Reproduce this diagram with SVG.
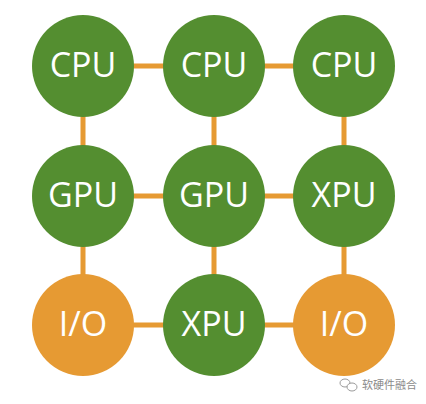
<svg xmlns="http://www.w3.org/2000/svg" width="426" height="404" viewBox="0 0 426 404">
<style>
.g{fill:#548e30}
.o{fill:#e69a33}
.t{fill:#ffffff;font-family:"Open Sans","Noto Sans",sans-serif;font-size:34px;text-anchor:middle;dominant-baseline:central}
.e{stroke:#e69a33;stroke-width:5;fill:none}
.wm{fill:#8a8a8a;font-family:"Noto Sans CJK SC",sans-serif;font-size:11px}
</style>
<rect width="426" height="404" fill="#ffffff"/>
<g id="connectors">
<line class="e" x1="83" y1="66" x2="344" y2="66"/>
<line class="e" x1="83" y1="196" x2="344" y2="196"/>
<line class="e" x1="83" y1="325" x2="344" y2="325"/>
<line class="e" x1="83" y1="66" x2="83" y2="325"/>
<line class="e" x1="214" y1="66" x2="214" y2="325"/>
<line class="e" x1="344" y1="66" x2="344" y2="325"/>
</g>
<g id="n1"><circle class="g" cx="83" cy="66" r="51"/><text class="t" x="83" y="64">CPU</text></g>
<g id="n2"><circle class="g" cx="214" cy="66" r="51"/><text class="t" x="214" y="64">CPU</text></g>
<g id="n3"><circle class="g" cx="344" cy="66" r="51"/><text class="t" x="344" y="64">CPU</text></g>
<g id="n4"><circle class="g" cx="83" cy="196" r="51"/><text class="t" x="83" y="194">GPU</text></g>
<g id="n5"><circle class="g" cx="214" cy="196" r="51"/><text class="t" x="214" y="194">GPU</text></g>
<g id="n6"><circle class="g" cx="344" cy="196" r="51"/><text class="t" x="344" y="194">XPU</text></g>
<g id="n7"><circle class="o" cx="83" cy="325" r="51"/><text class="t" x="83" y="323">I/O</text></g>
<g id="n8"><circle class="g" cx="214" cy="325" r="51"/><text class="t" x="214" y="323">XPU</text></g>
<g id="n9"><circle class="o" cx="344" cy="325" r="51"/><text class="t" x="344" y="323">I/O</text></g>
<g id="watermark">
<ellipse cx="345" cy="383" rx="5" ry="4" fill="none" stroke="#9a9a9a" stroke-width="1"/>
<ellipse cx="352" cy="387" rx="5" ry="4" fill="#ffffff" stroke="#9a9a9a" stroke-width="1"/>
<text class="wm" x="362" y="389">软硬件融合</text>
</g>
</svg>
